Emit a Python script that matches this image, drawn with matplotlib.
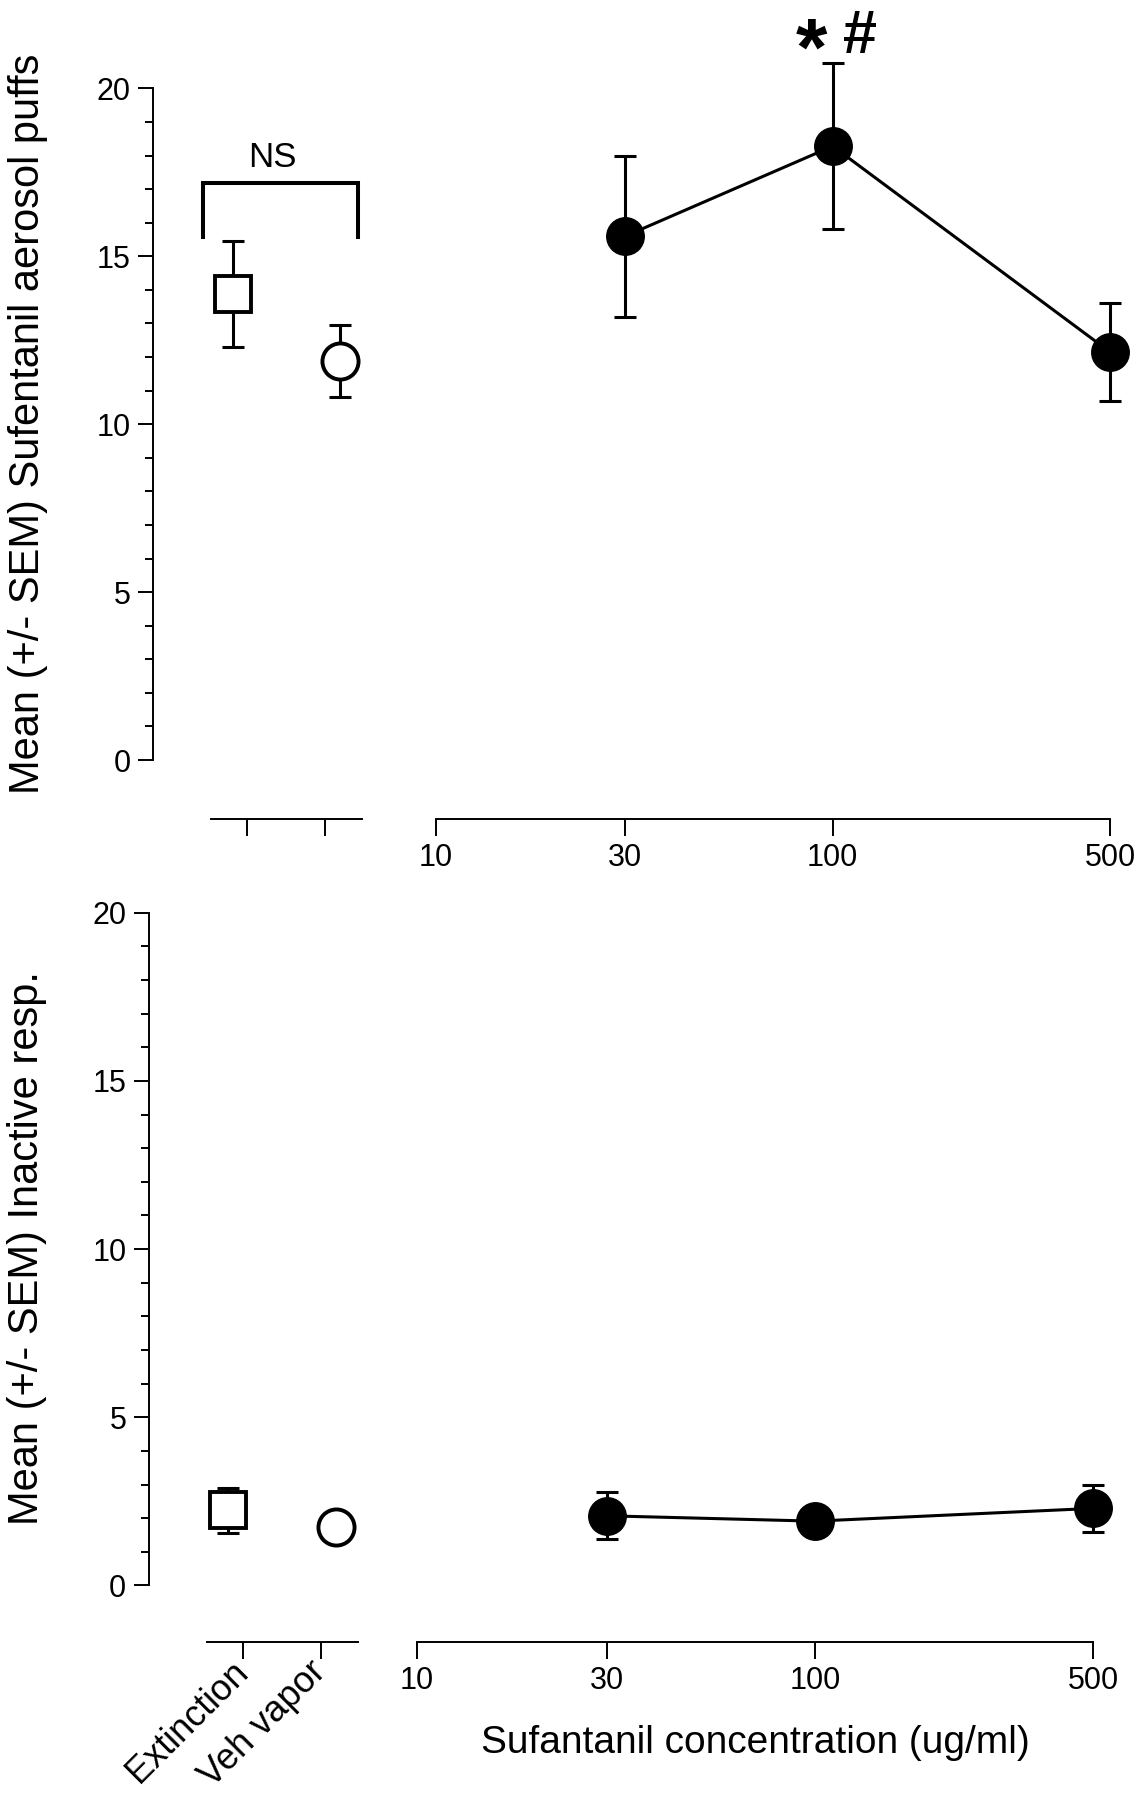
# ================================================================
# 0. Section: Imports and data
# ================================================================
import matplotlib
matplotlib.use("Agg")
from matplotlib import pyplot as plt
from matplotlib.ticker import FixedLocator, MultipleLocator, NullLocator

plt.rcParams["font.family"] = ["Liberation Sans", "DejaVu Sans"]

ctrl_labels = ["Extinction", "Veh vapor"]
conc = [30, 100, 500]
conc_ticks = [10, 30, 100, 500]

# top panel: active (aerosol puffs)
puffs_ctrl_mean = [13.87, 11.87]
puffs_ctrl_sem = [1.58, 1.07]
puffs_conc_mean = [15.6, 18.28, 12.15]
puffs_conc_sem = [2.4, 2.47, 1.45]

# bottom panel: inactive responses
inact_ctrl_mean = [2.23, 1.75]
inact_ctrl_sem = [0.68, 0.3]
inact_conc_mean = [2.07, 1.91, 2.29]
inact_conc_sem = [0.7, 0.3, 0.69]

W, H = 1146, 1800
PT = 0.72  # points per pixel at dpi 100

# ================================================================
# 1. Section: Layout (pixel positions in the 1146x1800 canvas)
# ================================================================
TOP = dict(yaxis_x=152.7, cat_right=362, cat_start=211, tick0=247, tick1=325,
           log_x0=436, log_x1=1110, y0=760, y20=88.4, xaxis_y=819)
BOTTOM = dict(yaxis_x=148.5, cat_right=358, cat_start=207, tick0=242.5, tick1=321,
              log_x0=417, log_x1=1093, y0=1585.4, y20=912.8, xaxis_y=1642)
CAT_OFFSETS = [-0.18, 0.19]

LW = 1.4
ELW = 2.2
MS = 27
TICK_FS = 22


def px_axes(fig, x0, x1, y_top, y_bottom):
    return fig.add_axes([x0 / W, 1 - y_bottom / H, (x1 - x0) / W, (y_bottom - y_top) / H])


def style_common(ax, lay):
    for side in ("top", "right"):
        ax.spines[side].set_visible(False)
    ax.spines["bottom"].set_position(("outward", (lay["xaxis_y"] - lay["y0"]) * PT))
    ax.spines["bottom"].set_linewidth(LW)
    ax.spines["left"].set_linewidth(LW)
    ax.set_ylim(0, 20)
    ax.tick_params(axis="x", direction="out", length=12.5, width=LW, pad=5, labelsize=TICK_FS)
    ax.patch.set_alpha(0)


def draw_panel(fig, lay, ctrl_mean, ctrl_sem, conc_mean, conc_sem, show_labels):
    # 1. Control (categorical) axis, carries the y axis
    ax_cat = px_axes(fig, lay["yaxis_x"], lay["cat_right"], lay["y20"], lay["y0"])
    unit = lay["tick1"] - lay["tick0"]
    left = (lay["yaxis_x"] - lay["tick0"]) / unit
    right = (lay["cat_right"] - lay["tick0"]) / unit
    start = (lay["cat_start"] - lay["tick0"]) / unit
    ax_cat.set_xlim(left, right)
    style_common(ax_cat, lay)
    ax_cat.spines["bottom"].set_bounds(start, right)
    ax_cat.set_xticks([0, 1])
    if show_labels:
        ax_cat.set_xticklabels(ctrl_labels, rotation=45, ha="right", va="center",
                               rotation_mode="anchor", fontsize=26)
    else:
        ax_cat.set_xticklabels([])
    ax_cat.yaxis.set_major_locator(MultipleLocator(5))
    ax_cat.yaxis.set_minor_locator(MultipleLocator(1))
    ax_cat.tick_params(axis="y", which="major", direction="out", length=11, width=LW,
                       pad=5, labelsize=TICK_FS)
    ax_cat.tick_params(axis="y", which="minor", direction="out", length=5.8, width=LW)

    xs = [i + off for i, off in enumerate(CAT_OFFSETS)]
    ax_cat.errorbar(xs, ctrl_mean, yerr=ctrl_sem, fmt="none", ecolor="black",
                    elinewidth=ELW, capsize=8, capthick=ELW, clip_on=False, zorder=2)
    ax_cat.plot(xs[0], ctrl_mean[0], "s", ms=26, mfc="white", mec="black", mew=2.8,
                clip_on=False, zorder=3)
    ax_cat.plot(xs[1], ctrl_mean[1], "o", ms=26, mfc="white", mec="black", mew=2.8,
                clip_on=False, zorder=3)

    # 2. Concentration (log) axis
    ax_log = px_axes(fig, lay["log_x0"], lay["log_x1"], lay["y20"], lay["y0"])
    ax_log.set_xscale("log")
    ax_log.set_xlim(conc_ticks[0], conc_ticks[-1])
    style_common(ax_log, lay)
    ax_log.spines["left"].set_visible(False)
    ax_log.yaxis.set_visible(False)
    ax_log.xaxis.set_major_locator(FixedLocator(conc_ticks))
    ax_log.xaxis.set_minor_locator(NullLocator())
    ax_log.set_xticklabels([str(c) for c in conc_ticks])

    ax_log.errorbar(conc, conc_mean, yerr=conc_sem, fmt="none", ecolor="black",
                    elinewidth=ELW, capsize=8, capthick=ELW, clip_on=False, zorder=2)
    ax_log.plot(conc, conc_mean, "-o", color="black", lw=ELW, ms=MS, clip_on=False, zorder=3)
    return ax_cat, ax_log


# ================================================================
# 2. Section: Figure
# ================================================================
fig = plt.figure(figsize=(W / 100, H / 100), dpi=100)
fig.patch.set_facecolor("white")

top_cat, top_log = draw_panel(fig, TOP, puffs_ctrl_mean, puffs_ctrl_sem,
                              puffs_conc_mean, puffs_conc_sem, show_labels=False)
bot_cat, bot_log = draw_panel(fig, BOTTOM, inact_ctrl_mean, inact_ctrl_sem,
                              inact_conc_mean, inact_conc_sem, show_labels=True)

# NS bracket over the control groups
top_cat.plot([-0.564, -0.564, 1.423, 1.423], [15.57, 17.18, 17.18, 15.57],
             color="black", lw=2.9, solid_joinstyle="miter", clip_on=False)
top_cat.text(0.327, 17.66, "NS", ha="center", va="baseline", fontsize=25)

# significance marks at 100 ug/ml
peak = puffs_conc_mean[1] + puffs_conc_sem[1]
top_log.annotate("*", xy=(100, peak), xytext=(-15, -8), textcoords="offset points",
                 ha="center", va="baseline", fontsize=58, fontweight="bold",
                 annotation_clip=False)
top_log.annotate("#", xy=(100, peak), xytext=(19.8, 7.2), textcoords="offset points",
                 ha="center", va="baseline", fontsize=44, fontweight="bold",
                 annotation_clip=False)

# axis titles
fig.text(28 / W, 1 - 424 / H, "Mean (+/- SEM) Sufentanil aerosol puffs",
         rotation=90, ha="center", va="center", fontsize=30)
fig.text(27 / W, 1 - 1248 / H, "Mean (+/- SEM) Inactive resp.",
         rotation=90, ha="center", va="center", fontsize=30)
fig.text(755 / W, 1 - 1743 / H, "Sufantanil concentration (ug/ml)",
         ha="center", va="center", fontsize=28)

fig.savefig("out.png", dpi=100)
